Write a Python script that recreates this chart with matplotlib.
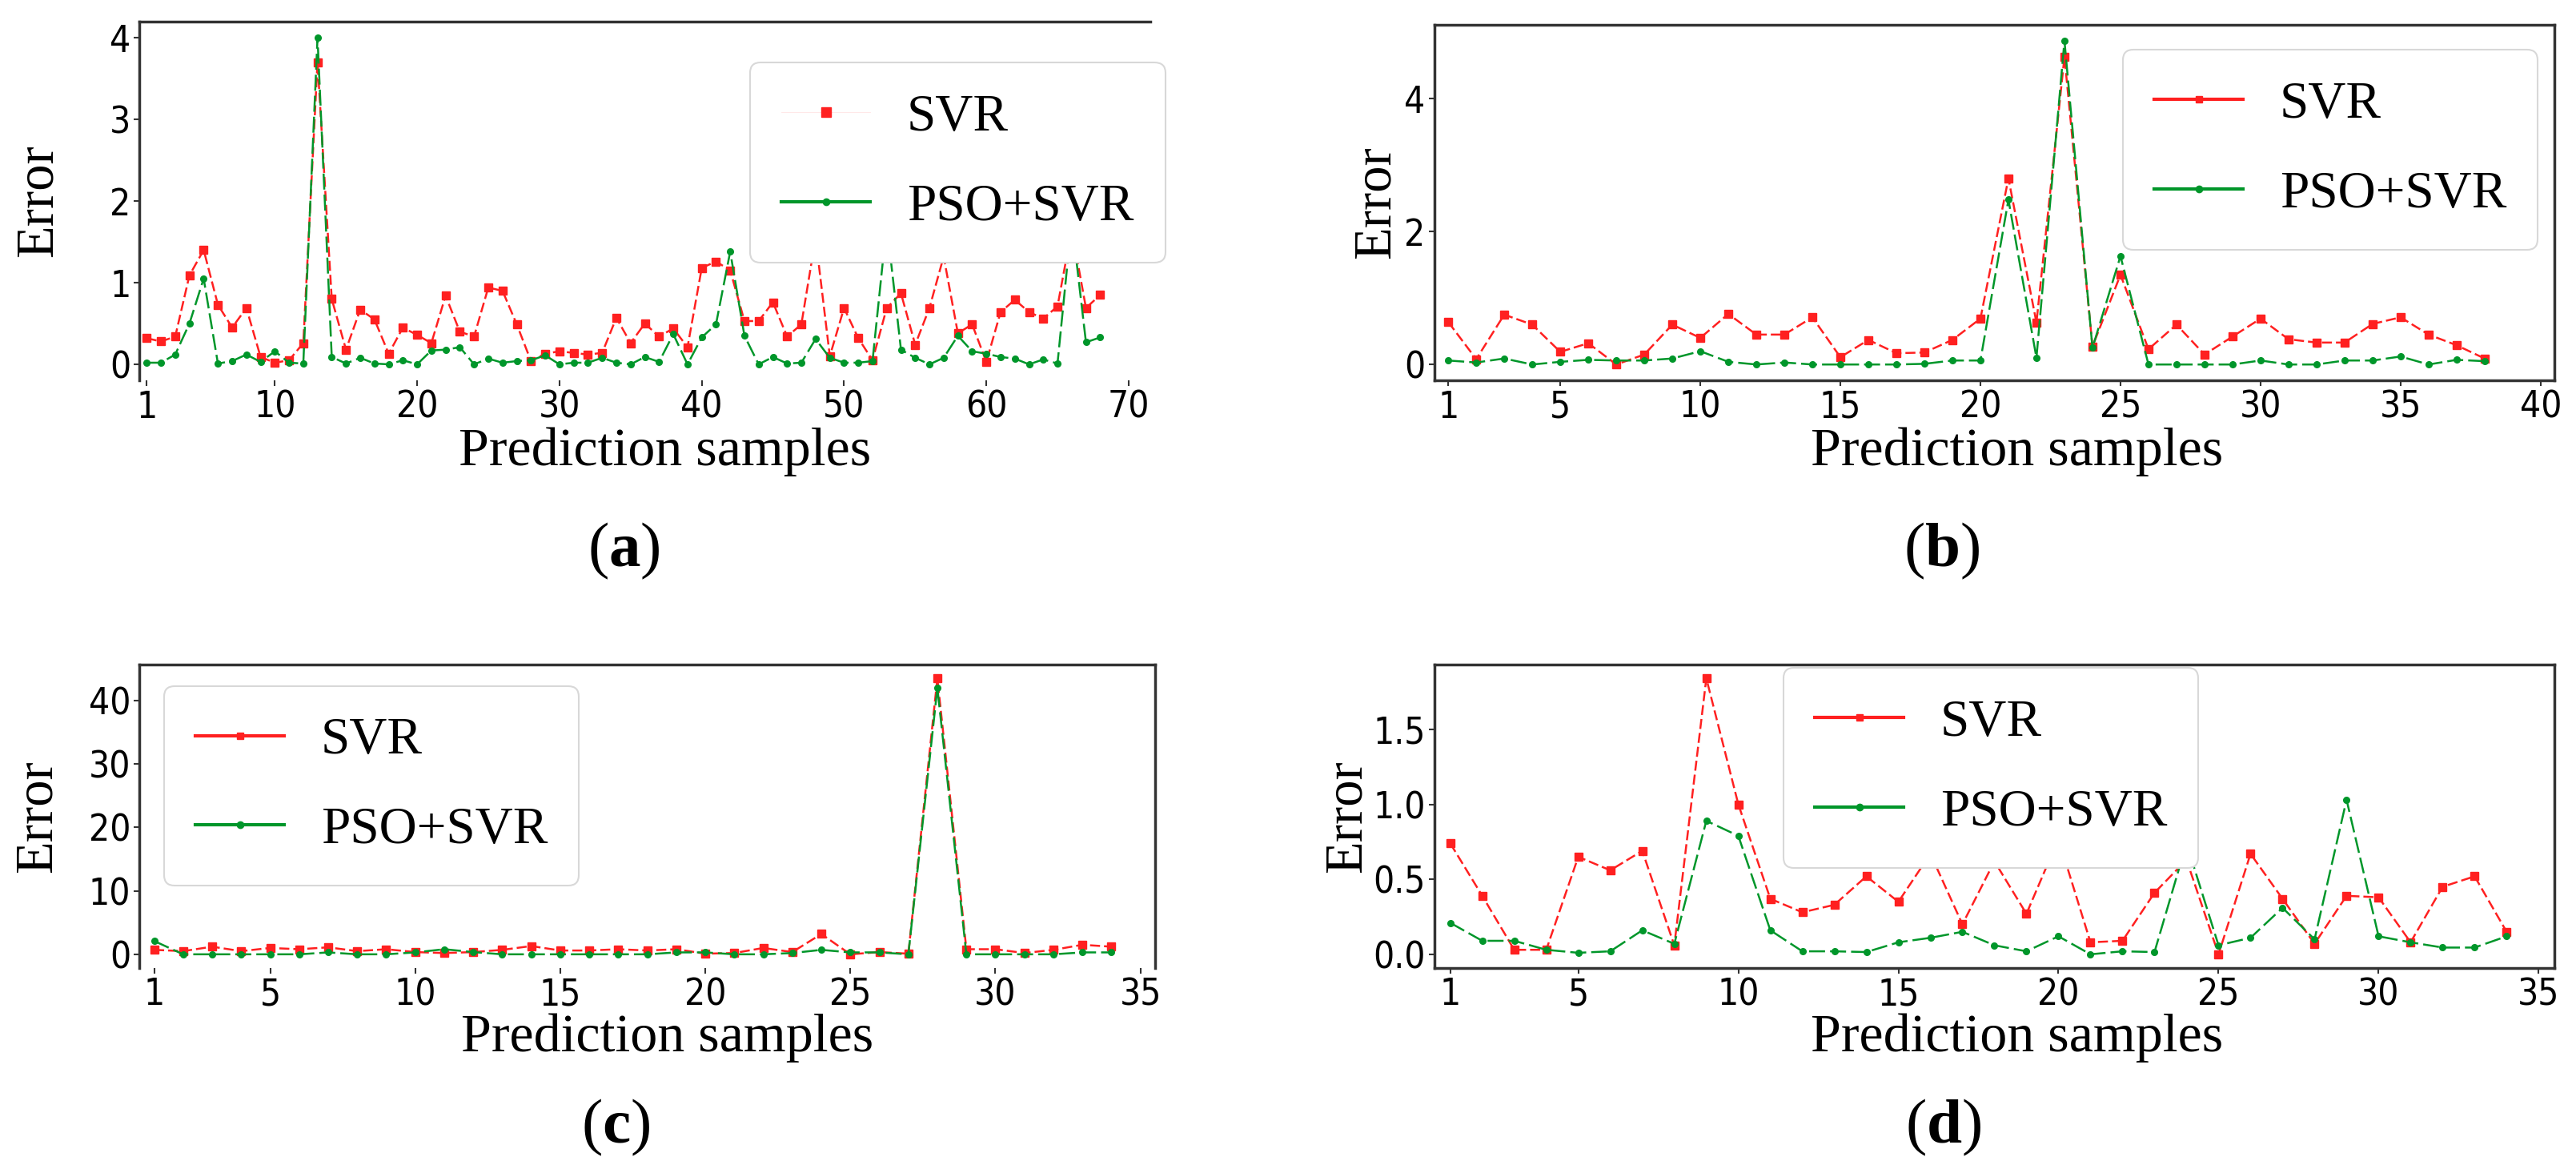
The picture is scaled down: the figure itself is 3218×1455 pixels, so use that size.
import matplotlib
matplotlib.use("Agg")
import matplotlib.pyplot as plt
from matplotlib.lines import Line2D
import numpy as np

# ---------------- data ----------------
a_svr = [0.32, 0.28, 0.34, 1.09, 1.40, 0.73, 0.45, 0.69, 0.09, 0.02,
         0.05, 0.26, 3.70, 0.80, 0.18, 0.67, 0.55, 0.13, 0.45, 0.36,
         0.26, 0.84, 0.40, 0.34, 0.94, 0.90, 0.49, 0.04, 0.13, 0.16,
         0.14, 0.12, 0.14, 0.57, 0.26, 0.50, 0.34, 0.44, 0.21, 1.18,
         1.26, 1.15, 0.53, 0.53, 0.76, 0.34, 0.49, 1.55, 0.10, 0.69,
         0.32, 0.05, 0.69, 0.87, 0.24, 0.69, 1.32, 0.38, 0.49, 0.03,
         0.64, 0.79, 0.64, 0.56, 0.71, 1.65, 0.69, 0.85]
a_pso = [0.02, 0.02, 0.12, 0.50, 1.05, 0.01, 0.04, 0.12, 0.03, 0.16,
         0.02, 0.01, 4.00, 0.09, 0.01, 0.08, 0.01, 0.00, 0.05, 0.00,
         0.17, 0.18, 0.21, 0.00, 0.07, 0.02, 0.04, 0.05, 0.11, 0.00,
         0.02, 0.02, 0.08, 0.02, 0.00, 0.09, 0.03, 0.37, 0.00, 0.33,
         0.49, 1.38, 0.35, 0.00, 0.09, 0.01, 0.02, 0.31, 0.08, 0.02,
         0.02, 0.04, 1.72, 0.18, 0.08, 0.00, 0.08, 0.35, 0.16, 0.13,
         0.09, 0.07, 0.00, 0.06, 0.01, 1.76, 0.27, 0.33]

b_svr = [0.64, 0.08, 0.75, 0.60, 0.19, 0.32, 0.00, 0.15, 0.60, 0.40,
         0.76, 0.45, 0.45, 0.71, 0.11, 0.37, 0.17, 0.18, 0.37, 0.69,
         2.80, 0.63, 4.63, 0.27, 1.35, 0.23, 0.60, 0.15, 0.42, 0.69,
         0.38, 0.33, 0.33, 0.61, 0.71, 0.45, 0.29, 0.09]
b_pso = [0.06, 0.03, 0.09, 0.00, 0.04, 0.07, 0.06, 0.06, 0.09, 0.20,
         0.04, 0.00, 0.03, 0.00, 0.00, 0.00, 0.00, 0.01, 0.06, 0.06,
         2.48, 0.10, 4.87, 0.25, 1.63, 0.00, 0.00, 0.00, 0.00, 0.06,
         0.00, 0.00, 0.06, 0.06, 0.12, 0.00, 0.07, 0.05]

c_svr = [0.7, 0.5, 1.2, 0.5, 1.0, 0.8, 1.1, 0.5, 0.8, 0.35,
         0.2, 0.35, 0.7, 1.3, 0.6, 0.6, 0.8, 0.6, 0.8, 0.1,
         0.2, 1.0, 0.35, 3.2, 0.0, 0.35, 0.1, 43.5, 0.8, 0.8,
         0.2, 0.7, 1.5, 1.2]
c_pso = [2.1, 0.0, 0.0, 0.0, 0.0, 0.0, 0.3, 0.0, 0.0, 0.3,
         0.8, 0.35, 0.0, 0.0, 0.0, 0.0, 0.0, 0.0, 0.3, 0.3,
         0.0, 0.0, 0.2, 0.7, 0.3, 0.3, 0.0, 42.0, 0.0, 0.0,
         0.0, 0.0, 0.3, 0.3]

d_svr = [0.74, 0.39, 0.03, 0.03, 0.65, 0.56, 0.69, 0.06, 1.84, 1.00,
         0.37, 0.28, 0.33, 0.52, 0.35, 0.67, 0.20, 0.62, 0.27, 0.77,
         0.08, 0.09, 0.41, 0.63, 0.00, 0.67, 0.37, 0.07, 0.39, 0.38,
         0.08, 0.45, 0.52, 0.15]
d_pso = [0.21, 0.09, 0.09, 0.03, 0.01, 0.02, 0.16, 0.07, 0.89, 0.79,
         0.16, 0.02, 0.02, 0.015, 0.08, 0.11, 0.15, 0.06, 0.02, 0.12,
         0.00, 0.02, 0.015, 0.74, 0.06, 0.11, 0.31, 0.10, 1.03, 0.12,
         0.08, 0.045, 0.045, 0.12]

a_xticks = [1, 10, 20, 30, 40, 50, 60, 70]
b_xticks = [1, 5, 10, 15, 20, 25, 30, 35, 40]
cd_xticks = [1, 5, 10, 15, 20, 25, 30, 35]
a_yticks = [0, 1, 2, 3, 4]
b_yticks = [0, 2, 4]
c_yticks = [0, 10, 20, 30, 40]
d_yticks = [0.0, 0.5, 1.0, 1.5]
d_yticklabels = ["0.0", "0.5", "1.0", "1.5"]
series_names = ["SVR", "PSO+SVR"]
panel_tags = ["a", "b", "c", "d"]

# ---------------- style ----------------
RED = "#ff2020"
GREEN = "#00962a"
SERIF = "Liberation Serif"
TICK_FS = 33
XLABEL_FS = 49
YLABEL_FS = 48
LEG_FS = 47
TAG_FS = 57

plt.rcParams["mathtext.fontset"] = "custom"
plt.rcParams["mathtext.rm"] = "Liberation Serif"
plt.rcParams["mathtext.bf"] = "Liberation Serif:bold"

fig = plt.figure(figsize=(32.18, 14.55), dpi=100)

W, H = 1568.0, 710.0
def box(l, t, r, b):
    return [l / W, 1 - b / H, (r - l) / W, (b - t) / H]

axa = fig.add_axes(box(85, 13, 700, 232))
axb = fig.add_axes(box(873, 15, 1555, 232))
axc = fig.add_axes(box(85, 405, 703, 590))
axd = fig.add_axes(box(873, 405, 1555, 590))


def draw(ax, svr, pso, xticks, yticks, xlim, spines, leg_loc, leg_anchor,
         ylab_x, xlab_y, svr_line_in_legend=True, yticklabels=None):
    x = np.arange(1, len(svr) + 1)
    ax.plot(x, svr, color=RED, lw=1.8, ls=(0, (5, 2)), marker="s",
            ms=6.5, mec=RED, mfc=RED)
    ax.plot(x, pso, color=GREEN, lw=1.8, ls=(0, (8, 2.5)), marker="o",
            ms=5.5, mec=GREEN, mfc=GREEN)
    ax.set_xticks(xticks)
    ax.set_yticks(yticks)
    if yticklabels is not None:
        ax.set_yticklabels(yticklabels)
    ax.set_xlim(*xlim)
    for side in ["left", "right", "top", "bottom"]:
        ax.spines[side].set_visible(side in spines)
        ax.spines[side].set_color("#333333")
        ax.spines[side].set_linewidth(2.5)
    ax.tick_params(labelsize=TICK_FS, length=5, width=1.5, color="#333333",
                   pad=3)
    for lab in ax.get_xticklabels() + ax.get_yticklabels():
        lab.set_fontfamily("DejaVu Sans")
        lab.set_fontstretch("condensed")
    ax.set_xlabel("Prediction samples", fontsize=XLABEL_FS, family=SERIF)
    ax.set_ylabel("Error", fontsize=YLABEL_FS, family=SERIF)
    ax.yaxis.set_label_coords(ylab_x, 0.5)
    ax.xaxis.set_label_coords(0.52, xlab_y)
    if svr_line_in_legend:
        h1 = Line2D([], [], color=RED, lw=3, marker="s", ms=6)
    else:
        h1 = (Line2D([], [], color=RED, lw=0.6, alpha=0.12),
              Line2D([], [], color=RED, ls="none", marker="s", ms=8))
    h2 = Line2D([], [], color=GREEN, lw=3, marker="o", ms=6)
    leg = ax.legend([h1, h2], series_names, loc=leg_loc,
                    bbox_to_anchor=leg_anchor, borderaxespad=0.0,
                    prop={"family": SERIF, "size": LEG_FS},
                    handlelength=1.7, labelspacing=0.8, borderpad=0.6,
                    handletextpad=0.7, fancybox=True, framealpha=1.0,
                    edgecolor="#d8d8d8")
    leg.get_frame().set_linewidth(1.5)


draw(axa, a_svr, a_pso, a_xticks, a_yticks, (0.5, 71.5), ["left", "top"],
     "upper right", (1.015, 0.885), -0.076, -0.13, svr_line_in_legend=False)
draw(axb, b_svr, b_pso, b_xticks, b_yticks, (0.5, 40.5),
     ["left", "right", "top", "bottom"], "upper right", (0.985, 0.93),
     -0.03, -0.13)
draw(axc, c_svr, c_pso, cd_xticks, c_yticks, (0.5, 35.5),
     ["left", "right", "top"], "upper left", (0.024, 0.93), -0.076, -0.15)
draw(axd, d_svr, d_pso, cd_xticks, d_yticks, (0.5, 35.5),
     ["left", "right", "top", "bottom"], "upper center", (0.497, 0.99),
     -0.056, -0.15, yticklabels=d_yticklabels)

# panel tags
tag_pos = [(380, 336), (1182, 336), (375, 687), (1183, 687)]
for tag, (px, py) in zip(panel_tags, tag_pos):
    fig.text(px / W, 1 - py / H, r"($\mathbf{%s}$)" % tag, fontsize=TAG_FS,
             family=SERIF, ha="center", va="center")

fig.savefig("out.png", dpi=100, facecolor="white")
